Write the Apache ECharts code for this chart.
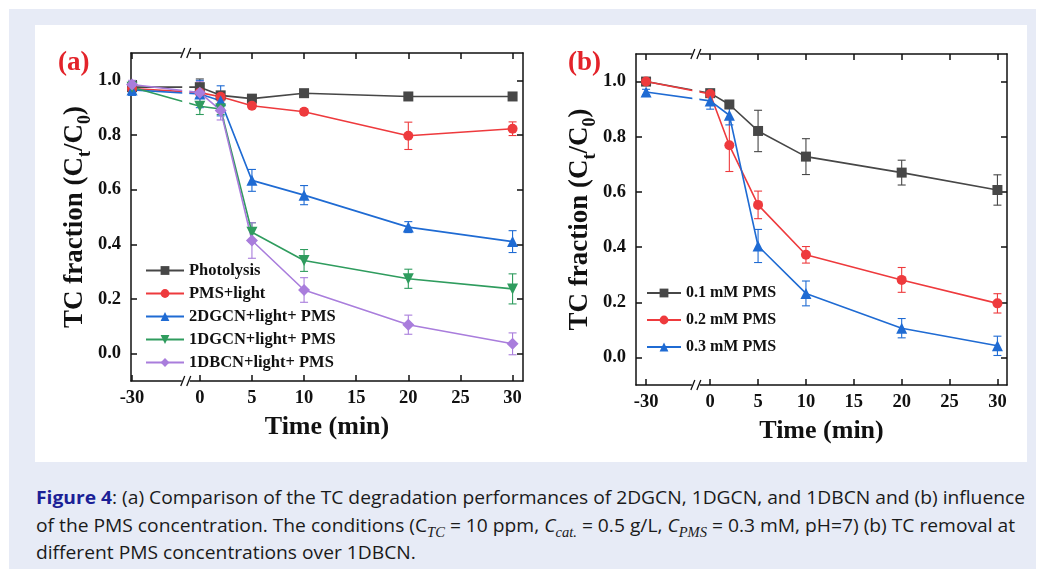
<!DOCTYPE html>
<html>
<head>
<meta charset="utf-8">
<script src="https://cdn.jsdelivr.net/npm/echarts@6/dist/echarts.min.js"></script>
<style>
    html, body { margin: 0; padding: 0; background: #fff; }
    #page { position: relative; width: 1041px; height: 576px; overflow: hidden; }
    #frame { position: absolute; left: 9px; top: 9px; width: 1027px; height: 560px; background: #e7ebf6; }
    #box { position: absolute; left: 35px; top: 25px; width: 992px; height: 437px; background: #fff; }
    #chart { position: absolute; left: 0; top: 0; width: 1041px; height: 576px; }
    #caption { position: absolute; left: 36px; top: 483px; font-family: "Open Sans", sans-serif; font-size: 18.5px;
        line-height: 27.5px; color: #1a1a1a; white-space: nowrap; transform-origin: 0 0; }
    #caption b { color: #1b1f96; }
    #caption sub { font-family: "Liberation Serif", serif; font-style: italic; font-size: 14px; line-height: 0; }
    #caption i { font-style: italic; }
</style>
</head>
<body>
<div id="page">
    <div id="frame"></div>
    <div id="box"></div>
    <div id="caption">
        <span class="ln"><b>Figure 4</b>: (a) Comparison of the TC degradation performances of 2DGCN, 1DGCN, and 1DBCN and (b) influence</span><br>
        <span class="ln">of the PMS concentration. The conditions (C<sub>TC</sub> = 10 ppm, <i>C</i><sub>cat.</sub> = 0.5 g/L, <i>C</i><sub>PMS</sub> = 0.3 mM, pH=7) (b) TC removal at</span><br>
        <span class="ln">different PMS concentrations over 1DBCN.</span>
    </div>
    <div id="chart"></div>
</div>
<script>
    // sampling times (min), -30 is the dark adsorption point before the break
    const times = [-30, 0, 2, 5, 10, 20, 30];
    const xTicks = [-30, 0, 5, 10, 15, 20, 25, 30];
    const yTicks = [0, 0.2, 0.4, 0.6, 0.8, 1.0];

    // panel (a)
    const photolysis = [0.975, 0.975, 0.945, 0.933, 0.953, 0.941, 0.941];
    const photolysisErr = [0.01, 0.03, 0.01, 0.01, 0.01, 0.01, 0.01];
    const pmsLight = [0.97, 0.955, 0.94, 0.907, 0.885, 0.797, 0.823];
    const pmsLightErr = [0.01, 0.02, 0.015, 0.01, 0.01, 0.05, 0.025];
    const gcn2d = [0.965, 0.95, 0.925, 0.634, 0.58, 0.463, 0.41];
    const gcn2dErr = [0.02, 0.05, 0.055, 0.04, 0.035, 0.02, 0.04];
    const gcn1d = [0.975, 0.905, 0.895, 0.444, 0.341, 0.274, 0.237];
    const gcn1dErr = [0.02, 0.03, 0.02, 0.035, 0.04, 0.035, 0.055];
    const bcn1d = [0.985, 0.955, 0.89, 0.414, 0.233, 0.106, 0.036];
    const bcn1dErr = [0.015, 0.04, 0.035, 0.065, 0.045, 0.035, 0.04];

    // panel (b)
    const pms01 = [1.0, 0.958, 0.917, 0.821, 0.728, 0.67, 0.607];
    const pms01Err = [0.01, 0.01, 0.01, 0.075, 0.065, 0.045, 0.055];
    const pms02 = [1.0, 0.955, 0.769, 0.553, 0.372, 0.281, 0.196];
    const pms02Err = [0.01, 0.01, 0.095, 0.05, 0.03, 0.045, 0.035];
    const pms03 = [0.962, 0.93, 0.878, 0.404, 0.232, 0.106, 0.042];
    const pms03Err = [0.01, 0.03, 0.035, 0.06, 0.045, 0.035, 0.035];

    const serif = 'Liberation Serif';

    // broken axis: negative times are squeezed into a short stretch left of 0
    const squeezeA = 6.5 / 30;
    const squeezeB = 6.7 / 30;
    function pos(t, k) {
        return t < 0 ? t * k : t;
    }

    function lineSeries(name, values, color, symbol, size, k, idx, rotate) {
        return {
            name: name,
            type: 'line',
            xAxisIndex: idx,
            yAxisIndex: idx,
            data: values.map((v, i) => [pos(times[i], k), v]),
            symbol: symbol,
            symbolSize: size,
            symbolRotate: rotate || 0,
            color: color,
            lineStyle: {width: 1.6, color: color},
            itemStyle: {color: color},
            z: 3
        };
    }

    function errSeries(values, errs, color, k, idx) {
        return {
            type: 'custom',
            xAxisIndex: idx,
            yAxisIndex: idx,
            data: values.map((v, i) => [pos(times[i], k), v - errs[i], v + errs[i]]),
            renderItem: function (params, api) {
                let lo = api.coord([api.value(0), api.value(1)]);
                let hi = api.coord([api.value(0), api.value(2)]);
                let st = {stroke: color, lineWidth: 1.1};
                return {
                    type: 'group',
                    children: [
                        {type: 'line', shape: {x1: lo[0], y1: lo[1], x2: hi[0], y2: hi[1]}, style: st},
                        {type: 'line', shape: {x1: lo[0] - 4, y1: lo[1], x2: lo[0] + 4, y2: lo[1]}, style: st},
                        {type: 'line', shape: {x1: hi[0] - 4, y1: hi[1], x2: hi[0] + 4, y2: hi[1]}, style: st}
                    ]
                };
            },
            z: 2,
            silent: true
        };
    }

    // white gap in the lines plus the "//" marks on both x axes
    function breakSeries(at, idx) {
        return {
            type: 'custom',
            xAxisIndex: idx,
            yAxisIndex: idx,
            data: [[at]],
            clip: false,
            silent: true,
            z: 10,
            renderItem: function (params, api) {
                let top = api.coord([api.value(0), 1.1]);
                let bot = api.coord([api.value(0), -0.1]);
                let low = api.coord([api.value(0), 0.8]);
                let x = top[0];
                let st = {stroke: '#111', lineWidth: 1.3};
                let marks = [];
                [top[1], bot[1]].forEach(y => {
                    marks.push({type: 'rect', shape: {x: x - 4, y: y - 2, width: 8, height: 4}, style: {fill: '#fff'}});
                    marks.push({type: 'line', shape: {x1: x - 5, y1: y + 5, x2: x - 1, y2: y - 5}, style: st});
                    marks.push({type: 'line', shape: {x1: x + 1, y1: y + 5, x2: x + 5, y2: y - 5}, style: st});
                });
                return {
                    type: 'group',
                    children: [
                        {type: 'rect', shape: {x: x - 3.5, y: top[1] + 2, width: 7, height: low[1] - top[1]}, style: {fill: '#fff'}}
                    ].concat(marks)
                };
            }
        };
    }

    function xAxes(grid, min, max, k) {
        let ticks = xTicks.map(t => pos(t, k));
        let base = {
            type: 'value',
            gridIndex: grid,
            min: min,
            max: max,
            splitLine: {show: false},
            axisLine: {onZero: false, lineStyle: {color: '#111', width: 1.5}},
            axisTick: {inside: true, length: 6, customValues: ticks, lineStyle: {color: '#111', width: 1.5}}
        };
        return [
            Object.assign({}, base, {
                position: 'bottom',
                name: 'Time (min)',
                nameLocation: 'middle',
                nameGap: 33,
                nameTextStyle: {fontFamily: serif, fontWeight: 'bold', fontSize: 26, color: '#111'},
                axisLabel: {
                    customValues: ticks,
                    margin: 8,
                    fontFamily: serif, fontWeight: 'bold', fontSize: 18.5, color: '#111',
                    formatter: v => v < 0 ? '-30' : String(v)
                }
            }),
            Object.assign({}, base, {position: 'top', axisLabel: {show: false}})
        ];
    }

    function yAxes(grid, gap) {
        let base = {
            type: 'value',
            gridIndex: grid,
            min: -0.1,
            max: 1.1,
            splitLine: {show: false},
            axisLine: {onZero: false, lineStyle: {color: '#111', width: 1.5}},
            axisTick: {inside: true, length: 6, customValues: yTicks, lineStyle: {color: '#111', width: 1.5}}
        };
        return [
            Object.assign({}, base, {
                position: 'left',
                name: '{m|TC fraction (C}{s|t}{m|/C}{s|0}{m|)}',
                nameLocation: 'middle',
                nameRotate: 90,
                nameGap: gap,
                nameTextStyle: {
                    rich: {
                        m: {fontFamily: serif, fontWeight: 'bold', fontSize: 27, color: '#111', lineHeight: 32},
                        s: {fontFamily: serif, fontWeight: 'bold', fontSize: 18, color: '#111', lineHeight: 32, verticalAlign: 'bottom', padding: [0, 0, -3, 0]}
                    }
                },
                axisLabel: {
                    customValues: yTicks,
                    margin: 10,
                    fontFamily: serif, fontWeight: 'bold', fontSize: 18.5, color: '#111',
                    formatter: v => v.toFixed(1)
                }
            }),
            Object.assign({}, base, {position: 'right', axisLabel: {show: false}})
        ];
    }

    const black = '#474747', red = '#ee3a3d', blue = '#1f6bd3', green = '#2f9c5e', purple = '#a97ddc';

    let chart = echarts.init(document.getElementById('chart'), null, {renderer: 'canvas'});
    chart.setOption({
        animation: false,
        backgroundColor: 'transparent',
        title: [
            {text: '(a)', left: 53, top: 45, textStyle: {fontFamily: serif, fontWeight: 'bold', fontSize: 27, color: '#e3232a'}},
            {text: '(b)', left: 563, top: 45, textStyle: {fontFamily: serif, fontWeight: 'bold', fontSize: 27, color: '#e3232a'}}
        ],
        grid: [
            {left: 131, top: 53, width: 392, height: 328},
            {left: 636, top: 54, width: 371, height: 331}
        ],
        legend: [
            {
                data: ['Photolysis', 'PMS+light', '2DGCN+light+ PMS', '1DGCN+light+ PMS', '1DBCN+light+ PMS'],
                orient: 'vertical',
                left: 140,
                top: 257,
                itemWidth: 38,
                itemHeight: 11,
                itemGap: 6,
                textStyle: {fontFamily: serif, fontWeight: 'bold', fontSize: 16.5, color: '#111'}
            },
            {
                data: ['0.1 mM PMS', '0.2 mM PMS', '0.3 mM PMS'],
                orient: 'vertical',
                left: 641,
                top: 280,
                itemWidth: 34,
                itemHeight: 11,
                itemGap: 11,
                textStyle: {fontFamily: serif, fontWeight: 'bold', fontSize: 16, color: '#111'}
            }
        ],
        xAxis: xAxes(0, -6.6, 31, squeezeA).concat(xAxes(1, -7.75, 31, squeezeB)),
        yAxis: yAxes(0, 38).concat(yAxes(1, 36)),
        series: [
            errSeries(photolysis, photolysisErr, black, squeezeA, 0),
            errSeries(pmsLight, pmsLightErr, red, squeezeA, 0),
            errSeries(gcn2d, gcn2dErr, blue, squeezeA, 0),
            errSeries(gcn1d, gcn1dErr, green, squeezeA, 0),
            errSeries(bcn1d, bcn1dErr, purple, squeezeA, 0),
            lineSeries('Photolysis', photolysis, black, 'rect', 10, squeezeA, 0),
            lineSeries('PMS+light', pmsLight, red, 'circle', 10, squeezeA, 0),
            lineSeries('2DGCN+light+ PMS', gcn2d, blue, 'triangle', 11, squeezeA, 0),
            lineSeries('1DGCN+light+ PMS', gcn1d, green, 'triangle', 11, squeezeA, 0, 180),
            lineSeries('1DBCN+light+ PMS', bcn1d, purple, 'diamond', 12, squeezeA, 0),
            breakSeries(-1.35, 0),

            errSeries(pms01, pms01Err, black, squeezeB, 2),
            errSeries(pms02, pms02Err, red, squeezeB, 2),
            errSeries(pms03, pms03Err, blue, squeezeB, 2),
            lineSeries('0.1 mM PMS', pms01, black, 'rect', 10, squeezeB, 2),
            lineSeries('0.2 mM PMS', pms02, red, 'circle', 10, squeezeB, 2),
            lineSeries('0.3 mM PMS', pms03, blue, 'triangle', 11, squeezeB, 2),
            breakSeries(-1.5, 2)
        ]
    });

    // squeeze the caption so the first line spans the box width
    let cap = document.getElementById('caption');
    let widest = 0;
    cap.querySelectorAll('.ln').forEach(el => { widest = Math.max(widest, el.getBoundingClientRect().width); });
    if (widest > 0) {
        cap.style.transform = 'scaleX(' + (989 / widest) + ')';
    }
</script>
</body>
</html>
